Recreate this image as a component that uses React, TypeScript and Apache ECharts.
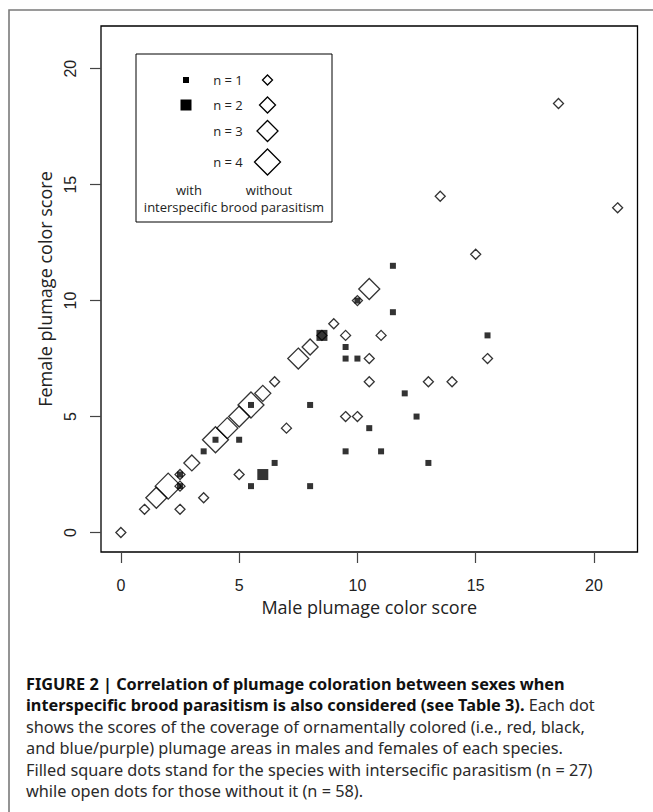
import React, { useEffect, useRef } from "react";
import * as echarts from "echarts";

// tick values / labels shared by both axes
const tickValues = [0, 5, 10, 15, 20];
const tickLabels = ["0", "5", "10", "15", "20"];

// [male score, female score, n species]
const withParasitism: number[][] = [
  [11.5, 11.5, 1], [10, 10, 1], [11.5, 9.5, 1], [8.5, 8.5, 2], [9.5, 8, 1],
  [9.5, 7.5, 1], [10, 7.5, 1], [8, 5.5, 1], [5.5, 5.5, 1], [10.5, 4.5, 1],
  [4, 4, 1], [5, 4, 1], [3.5, 3.5, 1], [9.5, 3.5, 1], [11, 3.5, 1],
  [6.5, 3, 1], [2.5, 2.5, 1], [6, 2.5, 2], [2.5, 2, 1], [5.5, 2, 1],
  [8, 2, 1], [12, 6, 1], [12.5, 5, 1], [13, 3, 1], [15.5, 8.5, 1],
];

const withoutParasitism: number[][] = [
  [0, 0, 1], [1, 1, 1], [1.5, 1.5, 3], [2, 2, 4], [2.5, 1, 1],
  [2.5, 2, 1], [2.5, 2.5, 1], [3, 3, 2], [3.5, 1.5, 1], [4, 4, 4],
  [4.5, 4.5, 3], [5, 5, 3], [5, 2.5, 1], [5.5, 5.5, 4], [6, 6, 2],
  [6.5, 6.5, 1], [7, 4.5, 1], [7.5, 7.5, 3], [8, 8, 2], [8.5, 8.5, 1],
  [9, 9, 1], [9.5, 8.5, 1], [9.5, 5, 1], [10, 5, 1], [10, 10, 1],
  [10.5, 10.5, 3], [10.5, 7.5, 1], [10.5, 6.5, 1], [11, 8.5, 1], [13, 6.5, 1],
  [14, 6.5, 1], [13.5, 14.5, 1], [15, 12, 1], [15.5, 7.5, 1], [18.5, 18.5, 1],
  [21, 14, 1],
];

const legendCounts = [1, 2, 3, 4];
const squareSizes = [6, 11];
const diamondSizes = [10, 16, 21, 26];

const captionLines = [
  "{b|FIGURE 2 | Correlation of plumage coloration between sexes when}",
  "{b|interspecific brood parasitism is also considered (see Table 3).} Each dot",
  "shows the scores of the coverage of ornamentally colored (i.e., red, black,",
  "and blue/purple) plumage areas in males and females of each species.",
  "Filled square dots stand for the species with intersecific parasitism (n = 27)",
  "while open dots for those without it (n = 58).",
];

const AXIS_FONT = "'Liberation Sans', Arial, sans-serif";
const TITLE_FONT = "'Open Sans', 'Noto Sans', sans-serif";
const CAPTION_FONT = "'Noto Sans', 'Open Sans', sans-serif";

export default function App() {
  const ref = useRef<HTMLDivElement>(null);

  useEffect(() => {
    document.body.style.margin = "0";
    if (!ref.current) return;
    const chart = echarts.init(ref.current, undefined, { renderer: "svg" });

    const diamondPts = (cx: number, cy: number, s: number) => [
      [cx, cy - s / 2], [cx + s / 2, cy], [cx, cy + s / 2], [cx - s / 2, cy],
    ];

    const legendRowY = [80, 105, 131, 162];
    const legendGraphics: any[] = [
      {
        type: "rect",
        shape: { x: 136, y: 54, width: 196, height: 168 },
        style: { fill: "#fff", stroke: "#000", lineWidth: 1 },
        z: 10,
      },
    ];
    legendCounts.forEach((n, i) => {
      legendGraphics.push({
        type: "text",
        x: 228,
        y: legendRowY[i],
        z: 11,
        style: {
          text: "n = " + n,
          fontFamily: TITLE_FONT,
          fontSize: 13,
          fill: "#222",
          align: "center",
          verticalAlign: "middle",
        },
      });
      legendGraphics.push({
        type: "polygon",
        z: 11,
        shape: { points: diamondPts(267.5, legendRowY[i], diamondSizes[i]) },
        style: { fill: "none", stroke: "#000", lineWidth: 1.3 },
      });
      if (i < squareSizes.length) {
        const s = squareSizes[i];
        legendGraphics.push({
          type: "rect",
          z: 11,
          shape: { x: 186 - s / 2, y: legendRowY[i] - s / 2, width: s, height: s },
          style: { fill: "#000" },
        });
      }
    });
    [
      ["with", 189, 190],
      ["without", 269, 190],
      ["interspecific brood parasitism", 234, 207],
    ].forEach(([t, x, y]) => {
      legendGraphics.push({
        type: "text",
        x,
        y,
        z: 11,
        style: {
          text: t,
          fontFamily: TITLE_FONT,
          fontSize: 13,
          lineHeight: 14,
          fill: "#222",
          align: "center",
          verticalAlign: "middle",
        },
      });
    });

    const captionGraphics = captionLines.map((line, i) => ({
      type: "text",
      x: 26,
      y: 684 + i * 21.4,
      style: {
        text: line,
        fontFamily: CAPTION_FONT,
        fontSize: 16.3,
        fill: "#2a2a2a",
        align: "left",
        verticalAlign: "middle",
        rich: {
          b: {
            fontFamily: CAPTION_FONT,
            fontSize: 16.3,
            fontWeight: "bold",
            fill: "#111",
          },
        },
      },
    }));

    const axisCommon = {
      type: "value" as const,
      min: -0.84,
      max: 21.84,
      splitLine: { show: false },
      axisLine: { show: false, onZero: false },
      axisTick: {
        show: true,
        inside: false,
        length: 11,
        customValues: tickValues,
        lineStyle: { color: "#444", width: 1.2 },
      },
      nameLocation: "middle" as const,
      nameTextStyle: { fontFamily: TITLE_FONT, fontSize: 18, color: "#222" },
    };

    chart.setOption({
      animation: false,
      backgroundColor: "#fff",
      grid: {
        left: 101,
        top: 26,
        width: 536.5,
        height: 526,
        show: true,
        borderColor: "#000",
        borderWidth: 1.3,
        backgroundColor: "transparent",
      },
      xAxis: {
        ...axisCommon,
        name: "Male plumage color score",
        nameGap: 42,
        axisLabel: {
          customValues: tickValues,
          formatter: (v: number) => tickLabels[tickValues.indexOf(v)],
          fontFamily: AXIS_FONT,
          fontSize: 16,
          color: "#222",
          margin: 25,
        },
      },
      yAxis: {
        ...axisCommon,
        name: "Female plumage color score",
        nameGap: 46,
        axisLabel: {
          customValues: tickValues,
          formatter: (v: number) => tickLabels[tickValues.indexOf(v)],
          fontFamily: AXIS_FONT,
          fontSize: 16,
          color: "#222",
          rotate: 90,
          margin: 23,
        },
      },
      series: [
        {
          name: "with",
          type: "scatter",
          symbol: "rect",
          z: 2,
          data: withParasitism,
          symbolSize: (v: number[]) => squareSizes[v[2] - 1],
          itemStyle: { color: "#000" },
        },
        {
          name: "without",
          type: "scatter",
          symbol: "diamond",
          z: 3,
          data: withoutParasitism,
          symbolSize: (v: number[]) => diamondSizes[v[2] - 1],
          itemStyle: {
            color: "rgba(0,0,0,0)",
            borderColor: "#000",
            borderWidth: 1.3,
          },
        },
      ],
      graphic: [
        {
          type: "rect",
          shape: { x: 9, y: 10, width: 700, height: 900 },
          style: { fill: "none", stroke: "#7a7a7a", lineWidth: 1.6 },
          z: 0,
        },
        ...legendGraphics,
        ...captionGraphics,
      ],
    });

    return () => chart.dispose();
  }, []);

  return <div ref={ref} style={{ width: 653, height: 812 }} />;
}
